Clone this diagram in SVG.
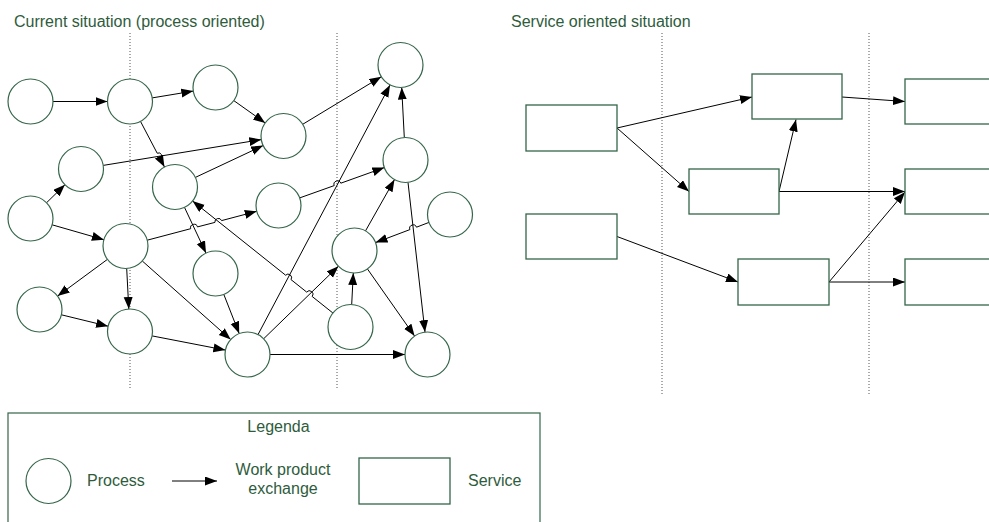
<svg xmlns="http://www.w3.org/2000/svg" width="989" height="522" viewBox="0 0 989 522">
  <defs>
    <marker id="arrow" markerUnits="userSpaceOnUse" markerWidth="13" markerHeight="10" refX="12" refY="4.5" orient="auto">
      <path d="M0,0 L12,4.5 L0,9 z" fill="#000"/>
    </marker>
  </defs>
  <style>
    .title { font-family: "Liberation Sans", Arial, sans-serif; font-size: 16px; fill: #2e5c3c; }
    .lbl { font-family: "Liberation Sans", Arial, sans-serif; font-size: 16px; fill: #2e5c3c; }
    .proc { fill: #fff; stroke: #35664a; stroke-width: 1.2; }
    .svc { fill: #fff; stroke: #35664a; stroke-width: 1.3; }
    .lane { stroke: #555; stroke-width: 1; stroke-dasharray: 1 2; fill: none; }
    .edge { fill: none; stroke: #000; stroke-width: 1; marker-end: url(#arrow); }
  </style>
  <rect width="989" height="522" fill="#fff"/>

  <!-- titles -->
  <text class="title" x="14" y="27">Current situation (process oriented)</text>
  <text class="title" x="511" y="27">Service oriented situation</text>

  <!-- phase separators -->
  <g id="lanes">
    <line class="lane" x1="130" y1="33" x2="130" y2="390"/>
    <line class="lane" x1="337" y1="33" x2="337" y2="390"/>
    <line class="lane" x1="662" y1="33" x2="662" y2="394"/>
    <line class="lane" x1="869" y1="33" x2="869" y2="394"/>
  </g>

  <!-- connectors -->
  <g id="connectors">
    <path class="edge" d="M53,101.5 L107.5,101.5"/>
    <path class="edge" d="M152.2,97.9 L193.3,91.1"/>
    <path class="edge" d="M140.5,121.4 L157.2,153.2 A3.5,3.5 0 0 1 160.4,159.4 L164.5,167.1"/>
    <path class="edge" d="M233.8,100.6 L265.2,122.9"/>
    <path class="edge" d="M103.2,165.4 L261.3,139.6"/>
    <path class="edge" d="M195.4,177.4 L263.1,145.6"/>
    <path class="edge" d="M302.7,124.3 L381.3,76.7"/>
    <path class="edge" d="M404.3,137.5 L401.7,87.5"/>
    <path class="edge" d="M258,334.6 L390,85.1"/>
    <path class="edge" d="M299.7,197.9 L334.2,185.6 A3.5,3.5 0 0 1 340.8,183.2 L384.3,167.6"/>
    <path class="edge" d="M365.5,230.9 L394.5,179.6"/>
    <path class="edge" d="M408,182.4 L425,332.1"/>
    <path class="edge" d="M429,222.4 L416.5,227.2 A3.5,3.5 0 0 0 409.9,229.6 L375.5,242.6"/>
    <path class="edge" d="M351.7,304.5 L353.3,273"/>
    <path class="edge" d="M367.4,268.9 L414.6,336.1"/>
    <path class="edge" d="M270,354.5 L405,354.5"/>
    <path class="edge" d="M263.6,338.8 L338.4,266.2"/>
    <path class="edge" d="M332.9,313 L312.2,296.5 A3.5,3.5 0 0 0 306.7,292.1 L291,279.6 A3.5,3.5 0 0 0 285.6,275.2 L192.6,201"/>
    <path class="edge" d="M147.2,240.2 L190.7,228.7 A3.5,3.5 0 0 1 197.5,226.9 L214.9,222.4 A3.5,3.5 0 0 1 221.6,220.6 L256.8,211.3"/>
    <path class="edge" d="M184.5,207.4 L206,253.1"/>
    <path class="edge" d="M223.8,294.4 L239.2,333.6"/>
    <path class="edge" d="M142.3,261 L230.7,339.5"/>
    <path class="edge" d="M46.6,202.7 L64.9,184.8"/>
    <path class="edge" d="M52.1,224.8 L103.9,239.7"/>
    <path class="edge" d="M107.4,259.4 L57.6,296.1"/>
    <path class="edge" d="M126.7,268.5 L128.8,309"/>
    <path class="edge" d="M61.4,314.8 L108.1,326.2"/>
    <path class="edge" d="M152.1,335.9 L225.4,350.1"/>

    <path class="edge" d="M617,128 L752,97"/>
    <path class="edge" d="M617,128 L689,191.5"/>
    <path class="edge" d="M842,97 L905,101.5"/>
    <path class="edge" d="M779,191.5 L796,119.5"/>
    <path class="edge" d="M779,191.5 L905,191.5"/>
    <path class="edge" d="M829,282 L905,192"/>
    <path class="edge" d="M617,236.5 L738,282"/>
    <path class="edge" d="M829,282 L905,282"/>
  </g>

  <!-- processes -->
  <g id="p1"><circle class="proc" cx="30.5" cy="101.5" r="22.5"/></g>
  <g id="p2"><circle class="proc" cx="130" cy="101.5" r="22.5"/></g>
  <g id="p3"><circle class="proc" cx="215.5" cy="87.5" r="22.5"/></g>
  <g id="p4"><circle class="proc" cx="81" cy="169" r="22.5"/></g>
  <g id="p5"><circle class="proc" cx="175" cy="187" r="22.5"/></g>
  <g id="p6"><circle class="proc" cx="283.5" cy="136" r="22.5"/></g>
  <g id="p7"><circle class="proc" cx="400.5" cy="65" r="22.5"/></g>
  <g id="p8"><circle class="proc" cx="405.5" cy="160" r="22.5"/></g>
  <g id="p9"><circle class="proc" cx="30.5" cy="218.5" r="22.5"/></g>
  <g id="p10"><circle class="proc" cx="125.5" cy="246" r="22.5"/></g>
  <g id="p11"><circle class="proc" cx="39.5" cy="309.5" r="22.5"/></g>
  <g id="p12"><circle class="proc" cx="130" cy="331.5" r="22.5"/></g>
  <g id="p13"><circle class="proc" cx="215.5" cy="273.5" r="22.5"/></g>
  <g id="p14"><circle class="proc" cx="278.5" cy="205.5" r="22.5"/></g>
  <g id="p15"><circle class="proc" cx="247.5" cy="354.5" r="22.5"/></g>
  <g id="p16"><circle class="proc" cx="354.5" cy="250.5" r="22.5"/></g>
  <g id="p17"><circle class="proc" cx="350.5" cy="327" r="22.5"/></g>
  <g id="p18"><circle class="proc" cx="450" cy="214.5" r="22.5"/></g>
  <g id="p19"><circle class="proc" cx="427.5" cy="354.5" r="22.5"/></g>

  <!-- services -->
  <g id="s1"><rect class="svc" x="526" y="105" width="91" height="46"/></g>
  <g id="s2"><rect class="svc" x="752" y="74" width="90" height="45"/></g>
  <g id="s3"><rect class="svc" x="905" y="79" width="90" height="45"/></g>
  <g id="s4"><rect class="svc" x="689" y="169" width="90" height="45"/></g>
  <g id="s5"><rect class="svc" x="905" y="169" width="90" height="45"/></g>
  <g id="s6"><rect class="svc" x="526" y="214" width="91" height="45"/></g>
  <g id="s7"><rect class="svc" x="738" y="259" width="91" height="46"/></g>
  <g id="s8"><rect class="svc" x="905" y="259" width="90" height="46"/></g>

  <!-- legend -->
  <g id="legend">
    <rect x="8" y="413" width="532" height="130" fill="none" stroke="#35664a" stroke-width="1.2"/>
    <text class="lbl" x="278.5" y="432" text-anchor="middle">Legenda</text>
    <circle class="proc" cx="48.5" cy="481" r="22.5"/>
    <text class="lbl" x="87" y="486">Process</text>
    <path class="edge" d="M172,481 L217,481"/>
    <text class="lbl" x="283" y="475" text-anchor="middle">Work product</text>
    <text class="lbl" x="283" y="494" text-anchor="middle">exchange</text>
    <rect class="svc" x="359" y="458" width="91" height="46"/>
    <text class="lbl" x="468" y="486">Service</text>
  </g>
</svg>
